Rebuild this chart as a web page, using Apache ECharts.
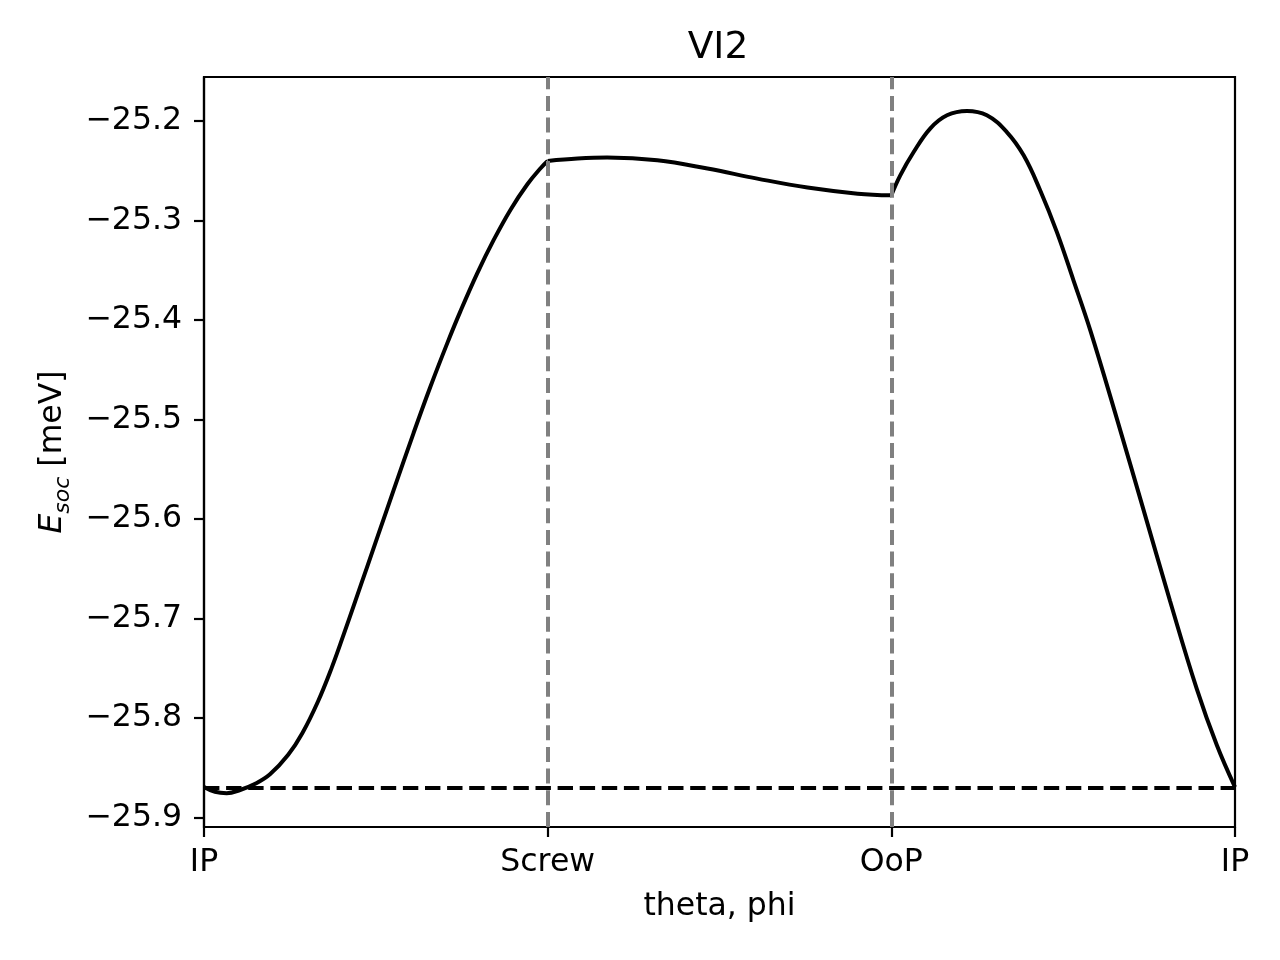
<!DOCTYPE html>
<html>
<head>
<meta charset="utf-8">
<title>VI2</title>
<script src="https://cdn.jsdelivr.net/npm/echarts@6.0.0/dist/echarts.min.js"></script>
<style>
  html, body { margin: 0; padding: 0; background: #fff; }
  #chart { width: 1280px; height: 960px; }
</style>
</head>
<body>
<div id="chart"></div>
<script>
// tick positions / labels
const xTickLabels = ["IP", "Screw", "OoP", "IP"];
const yTicks = [-25.9, -25.8, -25.7, -25.6, -25.5, -25.4, -25.3, -25.2];
const yMin = -25.9094;
const yMax = -25.1558;

// IP -> Screw
const seg1X = [0, 0.032, 0.066, 0.105, 0.149, 0.192, 0.245, 0.286, 0.332, 0.372, 0.406, 0.44, 0.474, 0.508, 0.552, 0.61, 0.659, 0.708, 0.746, 0.795, 0.843, 0.892, 0.941, 0.98, 1.0];
const seg1Y = [-25.8691, -25.874, -25.8754, -25.8722, -25.866, -25.8565, -25.8369, -25.8152, -25.783, -25.749, -25.7164, -25.6827, -25.6487, -25.6147, -25.5707, -25.5133, -25.4668, -25.4232, -25.3913, -25.3531, -25.3195, -25.2891, -25.2636, -25.2472, -25.2402];

// Screw -> OoP
const seg2X = [1.0, 1.087, 1.173, 1.319, 1.465, 1.61, 1.756, 1.902, 2.0];
const seg2Y = [-25.2402, -25.2378, -25.2368, -25.2395, -25.2478, -25.2579, -25.2669, -25.273, -25.2747];

// OoP -> IP
const seg3X = [2.0, 2.026, 2.065, 2.113, 2.162, 2.22, 2.278, 2.336, 2.385, 2.433, 2.482, 2.53, 2.579, 2.656, 2.733, 2.811, 2.889, 2.947, 3.0];
const seg3Y = [-25.2747, -25.2546, -25.2312, -25.2076, -25.1943, -25.1899, -25.1943, -25.2111, -25.2345, -25.2696, -25.3119, -25.3601, -25.4104, -25.4988, -25.5897, -25.6823, -25.7709, -25.8271, -25.8694];

// reference lines
const markerX = [1, 2];
const refLevel = -25.869;

const FONT = "DejaVu Sans";

function pairs(xs, ys) {
  return xs.map((x, i) => [x, ys[i]]);
}

function lineSeries(xs, ys, extra) {
  return Object.assign({
    type: "line",
    data: pairs(xs, ys),
    showSymbol: false,
    smooth: 0.4,
    lineStyle: { color: "#000", width: 4 },
    itemStyle: { color: "#000" },
    z: 3,
  }, extra || {});
}

const chart = echarts.init(document.getElementById("chart"));

const option = {
  animation: false,
  backgroundColor: "#fff",
  title: {
    text: "VI2",
    left: 713,
    top: 24,
    textAlign: "center",
    textStyle: { fontFamily: FONT, fontSize: 37.5, fontWeight: "normal", color: "#000" },
  },
  grid: {
    left: 204,
    right: 45,
    top: 77,
    bottom: 133,
    show: true,
    borderColor: "#000",
    borderWidth: 2.2,
    containLabel: false,
  },
  xAxis: {
    type: "value",
    min: 0,
    max: 3,
    interval: 1,
    name: "theta, phi",
    nameLocation: "middle",
    nameGap: 64,
    nameTextStyle: { fontFamily: FONT, fontSize: 31.5, color: "#000" },
    axisLine: { show: true, lineStyle: { color: "#000", width: 2.2 } },
    axisTick: { show: true, inside: false, length: 10, lineStyle: { color: "#000", width: 2.2 } },
    axisLabel: {
      margin: 20,
      fontFamily: FONT,
      fontSize: 31.5,
      color: "#000",
      formatter: (v) => xTickLabels[Math.round(v)] || "",
    },
    splitLine: { show: false },
  },
  yAxis: {
    type: "value",
    min: yMin,
    max: yMax,
    name: "{i|E}{sub|soc}{n| [meV]}",
    nameLocation: "middle",
    nameGap: 128,
    nameTextStyle: {
      fontFamily: FONT,
      color: "#000",
      rich: {
        i: { fontFamily: FONT, fontSize: 31.5, fontStyle: "italic", color: "#000", lineHeight: 44 },
        sub: { fontFamily: FONT, fontSize: 22, fontStyle: "italic", color: "#000", lineHeight: 24, verticalAlign: "bottom" },
        n: { fontFamily: FONT, fontSize: 31.5, color: "#000", lineHeight: 44 },
      },
    },
    axisLine: { show: true, lineStyle: { color: "#000", width: 2.2 } },
    axisTick: {
      show: true,
      inside: false,
      length: 10,
      customValues: yTicks,
      lineStyle: { color: "#000", width: 2.2 },
    },
    axisLabel: {
      margin: 22,
      fontFamily: FONT,
      fontSize: 31.5,
      color: "#000",
      customValues: yTicks,
      formatter: (v) => (v < 0 ? "\u2212" : "") + Math.abs(v).toFixed(1),
    },
    splitLine: { show: false },
  },
  series: [
    lineSeries(seg1X, seg1Y, {
      markLine: {
        silent: true,
        symbol: ["none", "none"],
        label: { show: false },
        animation: false,
        data: markerX.map((x) => ({
          xAxis: x,
          lineStyle: { color: "#808080", width: 4, type: [15, 6.7] },
        })).concat([{
          yAxis: refLevel,
          lineStyle: { color: "#000", width: 4, type: [15.4, 6.7] },
        }]),
      },
    }),
    lineSeries(seg2X, seg2Y),
    lineSeries(seg3X, seg3Y),
  ],
};

chart.setOption(option);
</script>
</body>
</html>
